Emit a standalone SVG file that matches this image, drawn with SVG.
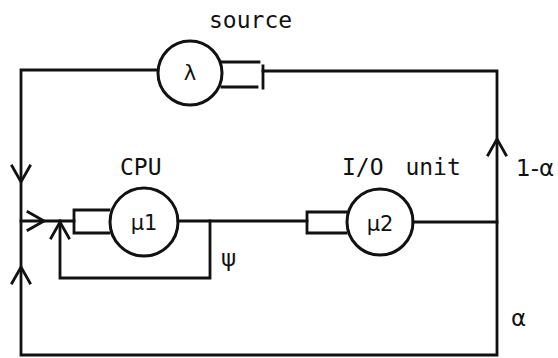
<svg xmlns="http://www.w3.org/2000/svg" xmlns:xlink="http://www.w3.org/1999/xlink" width="558" height="358" viewBox="0 0 558 358">
<style>
.ln{fill:none;stroke:#111;stroke-width:2.8;stroke-linecap:square;stroke-linejoin:miter}
.nd{fill:none;stroke:#111;stroke-width:3}
.lb{font-family:"DejaVu Sans Mono","Liberation Mono",monospace;font-size:23px;fill:#111}
.sym{font-family:"DejaVu Sans","Liberation Sans",sans-serif;font-size:21px;fill:#111}
.big{font-size:23px}
</style>
<defs>
<path id="chev" d="M-9,-16 L0,0 L9,-16" class="ln" stroke-linecap="round"/>
</defs>
<rect width="558" height="358" fill="#fff"/>
<g id="connectors">
<path class="ln" d="M157,70 H21 V355 H497 V71 H263"/>
<path class="ln" d="M21,221 H74"/>
<path class="ln" d="M60,221 V278 H210 V221"/>
<path class="ln" d="M178,221 H307"/>
<path class="ln" d="M413,222 H497"/>
<use xlink:href="#chev" transform="translate(21,182)"/>
<use xlink:href="#chev" transform="translate(44,221) rotate(-90)"/>
<use xlink:href="#chev" transform="translate(60,222) rotate(180)"/>
<use xlink:href="#chev" transform="translate(21,267) rotate(180)"/>
<use xlink:href="#chev" transform="translate(497,139) rotate(180)"/>
</g>
<g id="source">
<circle class="nd" cx="190" cy="73" r="32"/>
<path class="ln" d="M222,62 H259 M222,87 H257 M263,66 V88"/>
<text class="sym" x="190" y="80" text-anchor="middle">λ</text>
<text class="lb" x="209" y="28">source</text>
</g>
<g id="cpu">
<circle class="nd" cx="144" cy="222" r="34"/>
<path class="ln" d="M109,210 H74 V233 H109"/>
<text class="sym" x="144" y="230" text-anchor="middle">μ1</text>
<text class="lb" x="120" y="175">CPU</text>
</g>
<g id="io">
<circle class="nd" cx="380" cy="222" r="33"/>
<path class="ln" d="M346,212 H307 V233 H346"/>
<text class="sym" x="380" y="231" text-anchor="middle">μ2</text>
<text class="lb" x="342" y="175" word-spacing="8">I/O unit</text>
</g>
<g id="labels">
<text class="sym big" x="516" y="176">1-α</text>
<text class="sym big" x="221" y="266">ψ</text>
<text class="sym big" x="511" y="326">α</text>
</g>
</svg>
